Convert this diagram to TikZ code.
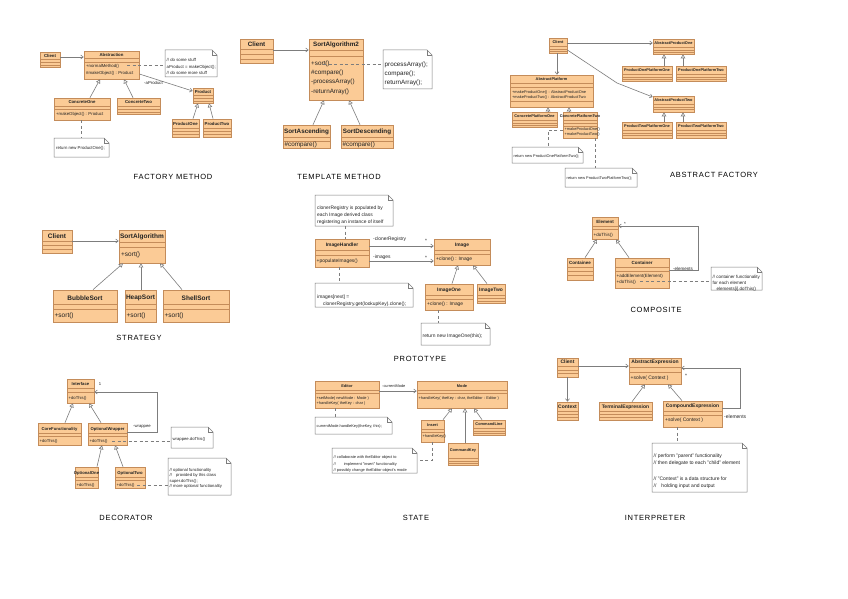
\documentclass[tikz,border=0pt]{standalone}
\usepackage{fontspec}
\setmainfont{Liberation Sans}
\newfontfamily\lblfont[LetterSpace=10]{Liberation Sans}
\usetikzlibrary{arrows.meta,fit}
\definecolor{clsfill}{RGB}{251,203,150}
\definecolor{clsdraw}{RGB}{196,140,90}
\definecolor{lnk}{RGB}{125,125,125}
\definecolor{txt}{RGB}{35,35,35}
\tikzset{
 clsbox/.style={draw=clsdraw, fill=clsfill, line width=0.7pt, inner sep=0pt, rectangle},
 sepline/.style={draw=clsdraw, line width=0.5pt},
 clstitle/.style={font=\fontsize{\dfs}{\dfs}\selectfont\bfseries, inner sep=0pt, text=txt},
 ops/.style={font=\fontsize{\dfs}{\dfs}\selectfont, inner sep=0pt, anchor=west, text=txt},
 notetext/.style={font=\fontsize{\dfs}{\nbs}\selectfont, align=left, inner sep=0pt, anchor=north west, text=txt},
 asl/.style={font=\fontsize{\dfs}{\dfs}\selectfont, inner sep=0pt, text=txt},
 nav/.style={draw=lnk, line width=0.6pt, -{Straight Barb[length=2.5pt,width=4pt]}},
 inh/.style={draw=lnk, line width=0.6pt, -{Triangle[open,length=4pt,width=4.5pt,fill=white]}},
 dep/.style={draw=lnk, line width=0.6pt, dash pattern=on 3pt off 2.5pt},
 lbl/.style={font=\lblfont\fontsize{7.5}{7.5}\selectfont, text=black, inner sep=0pt},
}
% name x1 y1 x2 y2 titleY title separators
\newcommand\ucls[8]{%
 \node[clsbox, fit={(#2,#3)(#4,#5)}] (#1) {};
 \foreach \s in {#8} {\draw[sepline] (#2,\s) -- (#4,\s);}
 \node[clstitle] at ({(#2+#4)/2},#6) {#7};
}
% name x1 y1 x2 y2
\newcommand\unote[5]{%
 \node[inner sep=0pt, fit={(#2,#3)(#4,#5)}] (#1) {};
 \filldraw[draw=lnk, fill=white, line width=0.5pt] (#2,#3) -- ({#4-5},#3) -- (#4,{#3+5}) -- (#4,#5) -- (#2,#5) -- cycle;
 \draw[lnk, line width=0.5pt] ({#4-5},#3) -- ({#4-5},{#3+5}) -- (#4,{#3+5});
}
\begin{document}
\begin{tikzpicture}[x=1pt,y=-1pt]
\path[use as bounding box] (0,0) rectangle (848,599);
\fill[white] (0,0) rectangle (848,599);

%================ FACTORY METHOD
\begin{scope}
\def\dfs{4.3}\def\nbs{6.7}
\ucls{FMclient}{40}{52}{60}{67}{55.5}{Client}{59,62,65}
\ucls{FMabs}{84}{51}{139}{79}{55}{Abstraction}{58.5,62}
\node[ops] at (86,66.5) {+normalMethod()};
\node[ops] at (86,73) {\#makeObject() : Product};
\ucls{FMcone}{54}{98}{110}{120}{102.5}{ConcreteOne}{106,109}
\node[ops] at (56,114.5) {+makeObject() : Product};
\ucls{FMctwo}{117}{98}{160}{114}{102.5}{ConcreteTwo}{106,109,112}
\ucls{FMprod}{193}{88}{213}{103}{92}{Product}{95,98,101}
\ucls{FMpone}{172}{119}{199}{137}{124}{ProductOne}{128,131,134}
\ucls{FMptwo}{203}{119}{231}{137}{124}{ProductTwo}{128,131,134}
\unote{FMnote1}{165}{50}{217}{77}
\node[notetext] at (166.5,58.2) {// do some stuff\\aProduct = makeObject();\\// do some more stuff};
\unote{FMnote2}{54}{138}{109}{157}
\node[notetext] at (56,146.2) {return new ProductOne();};
\draw[nav] ([yshift=2.5pt]FMclient.east) -- ([yshift=8pt]FMabs.west);
\draw[dep] ([xshift=15.5pt]FMabs.center) -- ([yshift=-1.5pt]FMnote1.west);
\draw[nav] ([yshift=-9pt]FMabs.east) -- ([yshift=4.5pt]FMprod.west);
\node[asl, anchor=west] at (144,83) {-aProduct};
\draw[inh] ([xshift=8pt]FMcone.north) -- ([xshift=-11.5pt]FMabs.south);
\draw[inh] ([xshift=-5.5pt]FMctwo.north) -- ([xshift=12.5pt]FMabs.south);
\draw[inh] ([xshift=7.5pt]FMpone.north) -- ([xshift=-5pt]FMprod.south);
\draw[inh] ([xshift=-4pt]FMptwo.north) -- ([xshift=6pt]FMprod.south);
\draw[dep] ([xshift=-1pt]FMcone.south) -- ([xshift=-0.5pt]FMnote2.north);
\node[lbl] at (173,177) {FACTORY METHOD};
\end{scope}

%================ TEMPLATE METHOD
\begin{scope}
\def\dfs{6.3}\def\nbs{9}
\ucls{TMclient}{240}{39}{273}{63}{44.5}{Client}{49,54,59}
\ucls{TMalg}{309}{39}{363}{100}{45}{SortAlgorithm2}{50,56.5}
\node[ops] at (311,64) {+sort()};
\node[ops] at (311,73) {\#compare()};
\node[ops] at (311,82) {-processArray()};
\node[ops] at (311,91.5) {-returnArray()};
\ucls{TMasc}{283}{125}{330}{148}{131.5}{SortAscending}{137.5,141}
\node[ops] at (284.5,145) {\#compare()};
\ucls{TMdesc}{341}{125}{393}{148}{131.5}{SortDescending}{137.5,141}
\node[ops] at (342.5,145) {\#compare()};
\unote{TMnote}{383}{50}{432}{89}
\node[notetext] at (384.5,61.3) {processArray();\\compare();\\returnArray();};
\draw[nav] ([yshift=1pt]TMclient.east) -- ([yshift=19.5pt]TMalg.west);
\draw[dep] ([xshift=-13pt,yshift=5.5pt]TMalg.center) -- ([yshift=5.5pt]TMnote.west);
\draw[inh] ([xshift=6.5pt]TMasc.north) -- ([xshift=-12pt]TMalg.south);
\draw[inh] ([xshift=-7pt]TMdesc.north) -- ([xshift=13pt]TMalg.south);
\node[lbl] at (339,177) {TEMPLATE METHOD};
\end{scope}

%================ ABSTRACT FACTORY
\begin{scope}
\def\dfs{3.9}\def\nbs{5}
\ucls{AFclient}{549}{38}{567}{53}{42}{Client}{46,49,51}
\ucls{AFplat}{510}{75}{593}{107}{79}{AbstractPlatform}{83,87.5,101.5}
\node[ops] at (512,92) {+makeProductOne() : AbstractProductOne};
\node[ops] at (512,97) {+makeProductTwo() : AbstractProductTwo};
\ucls{AFcp1}{512}{112}{557}{127}{116}{ConcretePlatformOne}{120,123,125}
\ucls{AFcp2}{563}{112}{597}{138}{116}{ConcretePlatformTwo}{120,123,126}
\node[ops] at (564.5,129.5) {+makeProductOne()};
\node[ops] at (564.5,134.5) {+makeProductTwo()};
\ucls{AFap1}{653}{39}{694}{54}{43}{AbstractProductOne}{47,50,52}
\ucls{AFp11}{622}{66}{672}{81}{70}{ProductOnePlatformOne}{74,77,79}
\ucls{AFp12}{676}{66}{726}{81}{70}{ProductOnePlatformTwo}{74,77,79}
\ucls{AFap2}{653}{96}{694}{112}{100}{AbstractProductTwo}{104,107,109}
\ucls{AFp21}{622}{122}{672}{138}{126}{ProductTwoPlatformOne}{130,133,135}
\ucls{AFp22}{676}{122}{726}{138}{126}{ProductTwoPlatformTwo}{130,133,135}
\unote{AFnote1}{512}{147}{583}{163}
\node[notetext] at (513.5,154.4) {return new ProductOnePlatformTwo();};
\unote{AFnote2}{565}{168}{637}{187}
\node[notetext] at (566.5,176.4) {return new ProductTwoPlatformTwo();};
\coordinate (AFbend) at (617,83);
\draw[nav] ([xshift=-1pt]AFclient.south) -- ([xshift=5.5pt]AFplat.north);
\draw[nav] ([yshift=2.5pt]AFclient.east) -- ([yshift=3.5pt]AFap1.west);
\draw[nav] ([yshift=-4.5pt]AFclient.east) -- (AFbend) -- ([yshift=7pt]AFap2.west);
\draw[inh] ([xshift=13.5pt]AFcp1.north) -- ([xshift=-3.5pt]AFplat.south);
\draw[inh] ([xshift=-11pt]AFcp2.north) -- ([xshift=17.5pt]AFplat.south);
\draw[inh] ([xshift=17pt]AFp11.north) -- ([xshift=-9.5pt]AFap1.south);
\draw[inh] ([xshift=-18pt]AFp12.north) -- ([xshift=9.5pt]AFap1.south);
\draw[inh] ([xshift=17pt]AFp21.north) -- ([xshift=-9.5pt]AFap2.south);
\draw[inh] ([xshift=-18pt]AFp22.north) -- ([xshift=9.5pt]AFap2.south);
\draw[dep] ([yshift=-5pt]AFcp2.west) -| ([xshift=0.5pt]AFnote1.north);
\draw[dep] ([xshift=15pt]AFcp2.south) -- ([xshift=-6pt]AFnote2.north);
\node[lbl] at (714,175) {ABSTRACT FACTORY};
\end{scope}

%================ STRATEGY
\begin{scope}
\def\dfs{6.5}\def\nbs{8}
\ucls{STclient}{42}{230}{72}{253}{236}{Client}{241,245,249}
\ucls{STalg}{119}{230}{165}{263}{237}{SortAlgorithm}{242,247}
\node[ops] at (121,254.5) {+sort()};
\ucls{STbub}{53}{290}{117}{322}{298}{BubbleSort}{304,309}
\node[ops] at (54.5,316) {+sort()};
\ucls{SThsort}{125}{290}{156}{322}{298}{HeapSort}{304,309}
\node[ops] at (126.5,316) {+sort()};
\ucls{STshell}{163}{290}{229}{322}{298}{ShellSort}{304,309}
\node[ops] at (164.5,316) {+sort()};
\draw[nav] ([yshift=0.5pt]STclient.east) -- ([yshift=5.5pt]STalg.west);
\draw[inh] ([xshift=8pt]STbub.north) -- ([xshift=-19pt]STalg.south);
\draw[inh] ([xshift=0.5pt]SThsort.north) -- ([xshift=-1pt]STalg.south);
\draw[inh] ([xshift=-14pt]STshell.north) -- ([xshift=18pt]STalg.south);
\node[lbl] at (139,338) {STRATEGY};
\end{scope}

%================ PROTOTYPE
\begin{scope}
\def\dfs{4.9}\def\nbs{7}
\unote{PRnote1}{315}{195}{393}{226}
\node[notetext] at (317,205.8) {clonerRegistry is populated by\\each Image derived class\\registering an instance of itself};
\ucls{PRhandler}{315}{239}{369}{267}{245}{ImageHandler}{250,255}
\node[ops] at (316.5,261) {+populateImages()};
\ucls{PRimage}{434}{239}{490}{265}{245}{Image}{250,254}
\node[ops] at (436,259.5) {+clone() : Image};
\ucls{PRone}{425}{284}{473}{310}{290}{ImageOne}{295,299}
\node[ops] at (427,304) {+clone() : Image};
\ucls{PRtwo}{477}{284}{505}{303}{290}{ImageTwo}{295,298,301}
\unote{PRnote2}{315}{283}{413}{307}
\node[notetext] at (317,294.8) {images[next] =\\\hspace*{6pt}clonerRegistry.get(lookupKey).clone();};
\unote{PRnote3}{421}{323}{490}{345}
\node[notetext] at (422.5,333.8) {return new ImageOne(this);};
\draw[dep] ([xshift=-9pt]PRnote1.south) -- ([xshift=3pt]PRhandler.north);
\draw[nav] ([yshift=7pt]PRhandler.east) -- ([yshift=6pt]PRimage.west);
\node[asl, anchor=west] at (373,239) {-clonerRegistry};
\node[asl] at (426,240.5) {*};
\draw[nav] ([yshift=-8pt]PRhandler.east) -- ([yshift=-9pt]PRimage.west);
\node[asl, anchor=west] at (373,257) {-images};
\node[asl] at (426,258) {*};
\draw[dep] ([xshift=-3pt]PRhandler.south) -- ([xshift=-25pt]PRnote2.north);
\draw[inh] ([xshift=3pt]PRone.north) -- ([xshift=-4pt]PRimage.south);
\draw[inh] ([xshift=-4pt]PRtwo.north) -- ([xshift=11pt]PRimage.south);
\draw[dep] ([xshift=-11pt]PRone.south) -- ([xshift=-17.5pt]PRnote3.north);
\node[lbl] at (420,359) {PROTOTYPE};
\end{scope}

%================ COMPOSITE
\begin{scope}
\def\dfs{4.5}\def\nbs{5.7}
\ucls{COel}{592}{217}{618}{239}{222}{Element}{226,229}
\node[ops] at (593.5,235) {+doThis()};
\ucls{COcee}{567}{258}{593}{280}{263}{Containee}{267,271,275}
\ucls{COcer}{615}{258}{669}{288}{263}{Container}{267,271}
\node[ops] at (616.5,276) {+addElement(Element)};
\node[ops] at (616.5,282) {+doThis()};
\unote{COnote}{711}{267}{762}{290}
\node[notetext] at (712.5,275.2) {// container functionality\\for each element\\\hspace*{4pt}elements[i].doThis()};
\draw[inh] ([xshift=5pt]COcee.north) -- ([xshift=-8pt]COel.south);
\draw[inh] ([xshift=-13pt]COcer.north) -- ([xshift=11pt]COel.south);
\draw[nav] ([yshift=3pt]COcer.east) -- ++(29,0) |- ([yshift=2pt]COel.east);
\node[asl] at (625,223.5) {*};
\node[asl, anchor=west] at (673,269) {-elements};
\draw[dep] ([xshift=-2pt,yshift=-8pt]COcer.center) -- ([yshift=-2.5pt]COnote.west);
\node[lbl] at (656,310) {COMPOSITE};
\end{scope}

%================ DECORATOR
\begin{scope}
\def\dfs{4.2}\def\nbs{5.3}
\ucls{DEint}{67}{379}{94}{403}{384}{Interface}{388,392}
\node[ops] at (68.5,398) {+doThis()};
\ucls{DEcore}{38}{423}{81}{445}{429}{CoreFunctionality}{433,436}
\node[ops] at (39.5,441) {+doThis()};
\ucls{DEwrap}{88}{423}{127}{445}{429}{OptionalWrapper}{433,436}
\node[ops] at (89.5,441) {+doThis()};
\ucls{DEone}{75}{467}{98}{488}{473}{OptionalOne}{477,480}
\node[ops] at (76.5,485) {+doThis()};
\ucls{DEtwo}{115}{467}{145}{488}{473}{OptionalTwo}{477,480}
\node[ops] at (116.5,485) {+doThis()};
\unote{DEnote1}{171}{427}{213}{448}
\node[notetext] at (172.5,437.2) {wrappee.doThis()};
\unote{DEnote2}{168}{458}{231}{495}
\node[notetext] at (169.5,468.2) {// optional functionality\\//\hspace*{4pt}provided by this class\\super.doThis();\\// more optional functionality};
\draw[inh] ([xshift=5.5pt]DEcore.north) -- ([xshift=-7.5pt]DEint.south);
\draw[inh] ([xshift=-6.5pt]DEwrap.north) -- ([xshift=8.5pt]DEint.south);
\draw[nav] ([yshift=2pt]DEwrap.east) -- ++(30,0) |- ([yshift=-1pt]DEint.east);
\node[asl] at (100,384.5) {1};
\node[asl, anchor=west] at (133,427) {-wrappee};
\draw[dep] ([xshift=4.5pt,yshift=-7pt]DEwrap.center) -- ([yshift=-3.5pt]DEnote1.west);
\draw[inh] ([xshift=10.5pt]DEone.north) -- ([xshift=-5.5pt]DEwrap.south);
\draw[inh] ([xshift=-7pt]DEtwo.north) -- ([xshift=7.5pt]DEwrap.south);
\draw[dep] ([xshift=7pt,yshift=-7.5pt]DEtwo.center) -- ([yshift=-8.5pt]DEnote2.west);
\node[lbl] at (126,518) {DECORATOR};
\end{scope}

%================ STATE
\begin{scope}
\def\dfs{3.9}\def\nbs{6.5}
\ucls{SEeditor}{315}{381}{379}{408}{386}{Editor}{390,393}
\node[ops] at (316.5,398) {+setMode( newMode : Mode )};
\node[ops] at (316.5,403) {+handleKey( theKey : char )};
\ucls{SEmode}{417}{381}{507}{408}{386}{Mode}{390,393}
\node[ops] at (418.5,398) {+handleKey( theKey : char, theEditor : Editor )};
\ucls{SEinsert}{421}{420}{444}{442}{425}{Insert}{429,432}
\node[ops] at (422.5,436) {+handleKey()};
\ucls{SEckey}{448}{443}{478}{465}{450.5}{CommandKey}{458,461,463}
\ucls{SEcline}{473}{420}{505}{435}{424}{CommandLine}{428,431,433}
\unote{SEnote1}{315}{417}{392}{434}
\node[notetext] at (316.5,424.5) {currentMode.handleKey(theKey, this);};
\unote{SEnote2}{332}{448}{417}{473}
\node[notetext] at (333.5,455.5) {// collaborate with theEditor object to\\//\hspace*{8pt}implement "insert" functionality\\// possibly change theEditor object's mode};
\draw[nav] ([yshift=3.5pt]SEeditor.east) -- ([yshift=3.5pt]SEmode.west);
\node[asl, anchor=west] at (382,386) {-currentMode};
\draw[dep] ([xshift=-12pt]SEeditor.south) -- ([xshift=-18.5pt]SEnote1.north);
\draw[inh] ([xshift=10.5pt]SEinsert.north) -- ([xshift=-10pt]SEmode.south);
\draw[inh] ([xshift=2pt]SEckey.north) -- ([xshift=3pt]SEmode.south);
\draw[inh] ([xshift=-7pt]SEcline.north) -- ([xshift=12pt]SEmode.south);
\draw[dep] ([xshift=-0.5pt]SEinsert.south) |- (SEnote2.east);
\node[lbl] at (416,518) {STATE};
\end{scope}

%================ INTERPRETER
\begin{scope}
\def\dfs{5}\def\nbs{7.6}
\ucls{INclient}{557}{358}{578}{377}{362}{Client}{366,370,373}
\ucls{INabs}{629}{358}{681}{384}{362}{AbstractExpression}{367,372}
\node[ops] at (630.5,378) {+solve( Context )};
\ucls{INctx}{557}{402}{578}{420}{407}{Context}{411,414,417}
\ucls{INterm}{599}{402}{652}{420}{407}{TerminalExpression}{411,414,417}
\ucls{INcomp}{663}{401}{722}{427}{406}{CompoundExpression}{411,415}
\node[ops] at (665,420.5) {+solve( Context )};
\unote{INnote}{652}{443}{747}{492}
\node[notetext] at (653.5,453.5) {// perform "parent" functionality\\// then delegate to each "child" element\\[7.6pt]// "Context" is a data structure for\\//\hspace*{5pt}holding input and output};
\draw[nav] ([yshift=1.5pt]INclient.east) -- ([yshift=5pt]INabs.west);
\draw[nav] (INclient.south) -- (INctx.north);
\draw[inh] ([xshift=6.5pt]INterm.north) -- ([xshift=-10pt]INabs.south);
\draw[inh] ([xshift=-10.5pt]INcomp.north) -- ([xshift=13pt]INabs.south);
\draw[nav] ([yshift=6pt]INcomp.east) -- ++(18,0) |- ([yshift=3pt]INabs.east);
\node[asl] at (686,375.5) {*};
\node[asl, anchor=west] at (724,417) {-elements};
\draw[dep] ([xshift=-15.5pt]INcomp.south) -- ([xshift=-22.5pt]INnote.north);
\node[lbl] at (655,518) {INTERPRETER};
\end{scope}
\end{tikzpicture}
\end{document}
